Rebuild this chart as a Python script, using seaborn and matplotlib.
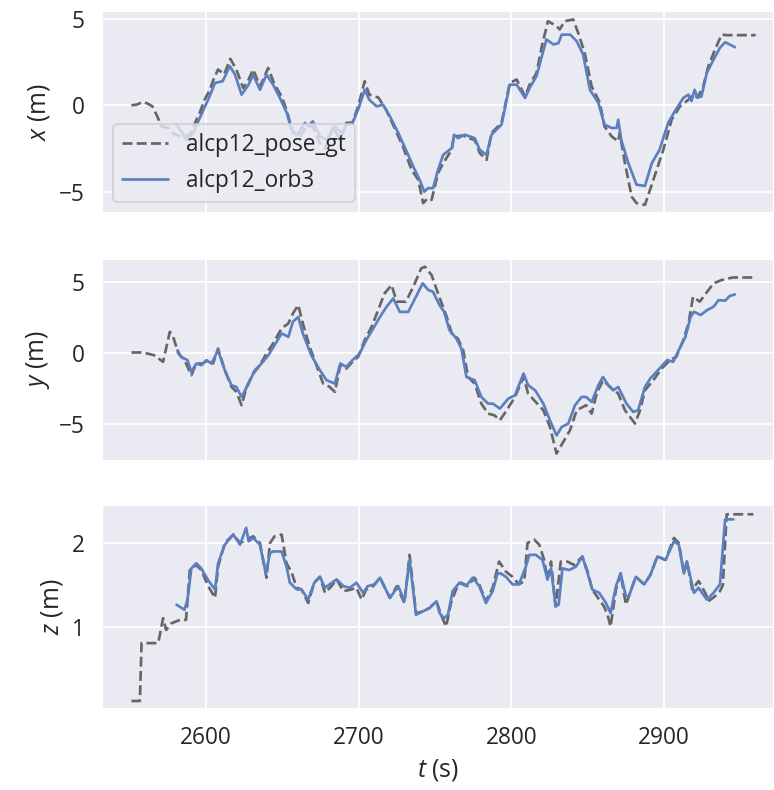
import numpy as np
import pandas as pd
import matplotlib
matplotlib.use("Agg")
import matplotlib.pyplot as plt
import seaborn as sns

# ---------------- data ----------------
x_gt_t = [2551.3, 2555, 2558.7, 2562, 2565, 2568, 2571, 2575, 2578, 2583, 2587, 2590, 2593, 2596, 2599,
          2602.6, 2605, 2608, 2612, 2616, 2620, 2624.4, 2628, 2631, 2635.4, 2638, 2640.8, 2645, 2649.6,
          2652.8, 2657, 2661.6, 2666, 2670, 2674.7, 2678, 2683.4, 2688, 2692, 2696, 2699.7, 2704, 2707,
          2713, 2718, 2724, 2729, 2734.7, 2739, 2742.3, 2745, 2747.8, 2752, 2755.4, 2761, 2762.5, 2768.5,
          2772, 2776, 2779.4, 2783.8, 2787, 2793.6, 2799, 2803.5, 2809, 2812, 2816.5, 2820, 2824, 2829.6,
          2831.7, 2835, 2840.5, 2843.8, 2848, 2852.6, 2858, 2861, 2865.7, 2870, 2871, 2874.4, 2878.8, 2882,
          2887.5, 2893, 2899.5, 2905, 2910.4, 2916, 2919, 2922, 2925.7, 2929, 2933.4, 2937.7, 2941, 2950, 2960]
x_gt_v = [0.0, 0.05, 0.2, 0.1, -0.06, -0.6, -1.22, -1.3, -1.6, -1.8, -1.85, -1.6, -1.0, -0.43, 0.3,
          0.9, 1.5, 2.08, 1.8, 2.7, 2.08, 1.0, 1.5, 2.08, 1.1, 1.6, 2.17, 1.2, 0.52,
          -0.25, -1.6, -1.8, -1.22, -1.2, -2.19, -2.5, -1.22, -2.0, -1.02, -1.0, -0.06, 1.4, 0.62,
          0.45, -0.25, -1.4, -2.38, -3.74, -4.3, -5.67, -5.4, -5.48, -3.93, -3.35, -2.58, -1.8, -1.75,
          -1.9, -2.0, -2.77, -3.16, -1.6, -1.02, 1.3, 1.5, 0.52, 1.2, 1.88, 3.43, 4.88, 4.6,
          4.4, 4.88, 4.98, 4.2, 3.05, 1.1, 0.14, -1.22, -1.8, -2.09, -1.6, -3.35, -5.29, -5.67,
          -5.77, -4.32, -2.58, -0.83, -0.06, 0.33, 0.62, 0.45, 1.1, 2.27, 3.24, 4.1, 4.07, 4.07, 4.07]

x_orb_t = [2580.8, 2584, 2587.4, 2591.7, 2596, 2601.5, 2606, 2611, 2615.7, 2619, 2623.4, 2628, 2631,
           2635.4, 2639.7, 2644, 2648.5, 2653, 2656, 2660, 2664.8, 2667, 2670, 2674.7, 2679, 2684.5,
           2689, 2692, 2696, 2699.7, 2704, 2707, 2711.8, 2716, 2720.5, 2726, 2730, 2735.8, 2740, 2743,
           2745.5, 2748.8, 2752, 2755.4, 2761, 2762.5, 2765, 2769.5, 2776, 2779.4, 2783.8, 2787, 2793.6,
           2799, 2803.5, 2809, 2812, 2816.5, 2820, 2823, 2827.6, 2830.8, 2833, 2838.6, 2842.8, 2847,
           2851.5, 2857, 2861, 2865.7, 2869, 2870, 2872, 2876.6, 2882, 2887.5, 2892, 2897, 2902.7, 2907,
           2912.6, 2916, 2918, 2920, 2922, 2924.5, 2928, 2932.4, 2936.6, 2940, 2943, 2946.4]
x_orb_v = [-1.12, -1.5, -2.0, -1.6, -0.73, 0.33, 1.3, 1.4, 2.27, 1.8, 0.62, 1.2, 1.78,
           0.9, 1.78, 1.2, 0.43, -0.44, -1.41, -1.7, -1.02, -1.2, -0.93, -1.8, -2.0, -1.22,
           -1.6, -1.12, -1.02, -0.25, 0.9, 0.33, -0.06, 0.04, -0.64, -1.6, -2.38, -3.55, -4.32, -5.0,
           -4.8, -4.8, -3.74, -2.87, -2.48, -1.7, -1.9, -1.7, -1.9, -2.58, -2.87, -1.7, -1.12,
           1.2, 1.2, 0.43, 1.0, 1.69, 2.85, 3.82, 3.53, 3.6, 4.1, 4.1, 3.72, 2.95,
           0.9, 0.14, -1.12, -1.31, -1.31, -0.83, -2.0, -3.35, -4.6, -4.67, -3.35, -2.58, -1.02, -0.35,
           0.43, 0.62, 0.25, 0.9, 0.45, 0.52, 1.88, 2.66, 3.33, 3.66, 3.53, 3.37]

y_gt_t = [2551.3, 2558.7, 2566, 2572, 2576.4, 2578.6, 2582, 2586, 2590.5, 2593.7, 2598, 2601.5, 2604.7,
          2608, 2612.4, 2616.8, 2620, 2623.4, 2626.7, 2631, 2635.4, 2639.7, 2644, 2649.6, 2654, 2657,
          2660.5, 2663.5, 2668, 2672, 2676.8, 2681, 2684.5, 2688, 2692, 2696, 2699.7, 2704, 2708.5,
          2712.8, 2717, 2721.6, 2725, 2731, 2735.8, 2741, 2743.5, 2747.8, 2752, 2757.7, 2761, 2765,
          2768.5, 2771.7, 2776, 2780.4, 2784.8, 2789, 2792.5, 2797, 2802.4, 2808, 2811, 2817, 2821,
          2825.3, 2829.6, 2834, 2838.4, 2842.8, 2849, 2852.6, 2855.9, 2860, 2864.6, 2870, 2874.4, 2881,
          2884.3, 2887.5, 2893, 2898.4, 2904, 2908, 2912.6, 2916, 2919, 2923.4, 2926.6, 2932.4, 2937.7,
          2945, 2952, 2960]
y_gt_v = [0.03, 0.03, -0.16, -0.63, 1.48, 1.13, -0.04, -0.5, -1.57, -0.75, -0.75, -0.5, -0.75,
          0.3, -1.22, -2.39, -2.74, -3.68, -2.39, -1.45, -0.87, -0.04, 0.66, 1.72, 2.07, 2.77,
          3.36, 2.07, 0.42, -0.75, -2.16, -2.39, -2.74, -0.87, -1.1, -0.63, -0.28, 0.89, 1.83,
          3.0, 4.18, 4.77, 3.6, 3.6, 4.65, 5.94, 6.06, 5.47, 4.18, 2.53, 1.37, 1.01,
          0.19, -1.69, -2.16, -3.57, -4.27, -4.39, -4.74, -4.03, -3.1, -1.69, -2.86, -3.57, -4.03,
          -5.21, -7.08, -6.26, -5.44, -4.03, -3.68, -4.27, -2.86, -1.92, -2.39, -2.86, -4.03, -4.97,
          -4.03, -2.63, -1.92, -1.1, -0.51, -0.28, 0.89, 2.07, 3.94, 3.6, 4.06, 4.89, 5.12,
          5.3, 5.3, 5.3]

y_orb_t = [2581.5, 2583.7, 2588, 2590.5, 2593.7, 2597, 2600.4, 2603.7, 2608, 2612.4, 2616.8, 2620,
           2623.4, 2628, 2632, 2635.4, 2641, 2645, 2649.6, 2654, 2657, 2660.5, 2663.5, 2669, 2674.7,
           2679, 2684.5, 2688, 2692, 2696, 2700.7, 2705, 2709.6, 2714, 2718.3, 2722.7, 2727, 2732.5,
           2737, 2742, 2745.6, 2748.7, 2753, 2756, 2759.5, 2764, 2767.3, 2770.6, 2776, 2780.4, 2784.8,
           2788, 2792.5, 2798, 2802.4, 2808, 2811, 2815.6, 2821, 2825.3, 2829.6, 2833, 2837.3, 2841.7,
           2846, 2849, 2852.6, 2857, 2860, 2863.5, 2866.7, 2870, 2875.4, 2879.8, 2883, 2887.5, 2891,
           2896, 2902, 2906, 2909.6, 2914, 2917.4, 2919.6, 2924, 2928, 2932.4, 2935.7, 2940, 2943, 2946.4]
y_orb_v = [0.19, -0.28, -0.51, -1.33, -0.75, -0.87, -0.51, -0.75, 0.19, -1.22, -2.27, -2.39,
           -3.1, -2.16, -1.22, -0.87, -0.16, 0.54, 1.37, 1.13, 2.19, 2.53, 1.37, -0.16, -1.22,
           -1.92, -2.16, -0.75, -0.98, -0.51, -0.04, 0.89, 1.72, 2.53, 3.24, 3.83, 2.88, 2.88,
           3.83, 4.89, 4.42, 4.3, 3.36, 2.89, 1.6, 1.01, 0.31, -1.69, -1.92, -3.1, -3.57,
           -3.57, -3.92, -3.22, -2.98, -1.45, -2.27, -2.63, -3.57, -4.74, -5.8, -5.21, -4.97, -3.68,
           -3.1, -3.1, -3.45, -2.27, -1.69, -2.27, -2.63, -2.39, -3.57, -4.15, -4.03, -2.39, -1.8,
           -1.22, -0.51, -0.63, 0.19, 1.13, 2.53, 2.89, 2.66, 3.0, 3.24, 3.71, 3.67, 4.0, 4.11]

z_gt_t = [2551.3, 2556.8, 2557.9, 2568.8, 2572, 2574, 2577.5, 2583, 2587, 2589.5, 2593.7, 2597, 2601.5,
          2606, 2608, 2612.4, 2618, 2622.4, 2626.7, 2631, 2635.4, 2639.7, 2642, 2645, 2649.6, 2652.8,
          2656, 2659.5, 2662.6, 2667, 2671, 2674.7, 2678, 2682.3, 2685.6, 2690, 2695.3, 2698.6, 2702,
          2705, 2709.6, 2714, 2720.5, 2725, 2730, 2733.4, 2737.6, 2742, 2746.4, 2751, 2754, 2757.3,
          2760.5, 2763.8, 2767, 2771.5, 2775.8, 2779, 2783.4, 2787.8, 2792, 2796.5, 2800.8, 2805,
          2808.5, 2810.6, 2815, 2818.3, 2821.5, 2823.7, 2826, 2829, 2832.4, 2836.8, 2841, 2846.5, 2850,
          2853, 2857.5, 2860.7, 2863, 2865, 2868.5, 2871.6, 2875, 2877, 2881.5, 2887, 2891, 2895.6,
          2901, 2906.5, 2909.7, 2913, 2915, 2918.5, 2922.6, 2927, 2929, 2933.4, 2936.6, 2938.5, 2941,
          2950, 2958.5]
z_gt_v = [0.13, 0.13, 0.815, 0.815, 1.11, 0.97, 1.05, 1.09, 1.09, 1.68, 1.74, 1.68, 1.49,
          1.35, 1.72, 2.0, 2.1, 2.0, 2.04, 2.08, 2.0, 1.59, 2.0, 2.08, 2.1, 1.76,
          1.66, 1.47, 1.45, 1.29, 1.53, 1.6, 1.41, 1.49, 1.57, 1.43, 1.45, 1.47, 1.33,
          1.45, 1.49, 1.59, 1.35, 1.49, 1.29, 1.86, 1.17, 1.19, 1.23, 1.31, 1.15, 1.01,
          1.29, 1.45, 1.53, 1.49, 1.59, 1.51, 1.31, 1.47, 1.78, 1.66, 1.6, 1.51,
          1.55, 2.0, 2.04, 1.98, 1.8, 1.57, 1.78, 1.25, 1.78, 1.78, 1.74, 1.84, 1.66,
          1.45, 1.33, 1.25, 1.15, 1.01, 1.45, 1.64, 1.27, 1.37, 1.6, 1.51, 1.62, 1.84,
          1.8, 2.06, 2.0, 1.64, 1.78, 1.45, 1.55, 1.41, 1.31, 1.37, 1.43, 1.5, 2.34,
          2.34, 2.34]

z_orb_t = [2580.8, 2586, 2588, 2590.5, 2593.7, 2597, 2601.5, 2606, 2608, 2612.4, 2618, 2622.4, 2626.4,
           2628, 2631, 2635.4, 2639.3, 2642, 2644, 2649.6, 2652.8, 2655, 2659.5, 2662.6, 2667, 2671,
           2674.7, 2678, 2681, 2685.6, 2690, 2694.2, 2698.6, 2703, 2706, 2710.6, 2714, 2720.5, 2726,
           2730, 2733.4, 2737.6, 2742, 2746.4, 2751, 2753, 2756, 2758.5, 2761.6, 2766, 2770.4, 2774.7,
           2779, 2783.4, 2787.8, 2791, 2793, 2796.5, 2800.8, 2805, 2809.5, 2811.8, 2816, 2820.4, 2823.7,
           2826, 2829, 2831, 2833.5, 2838, 2842.3, 2846.5, 2850, 2853, 2857.5, 2862, 2865, 2868.5,
           2871.6, 2875, 2877, 2881.5, 2887, 2891, 2895.6, 2901, 2906.5, 2909.7, 2913, 2915, 2919.6,
           2922.6, 2928, 2932.4, 2936.6, 2940, 2945.4]
z_orb_v = [1.27, 1.21, 1.33, 1.7, 1.76, 1.7, 1.56, 1.45, 1.76, 1.98, 2.1, 1.98, 2.18,
           2.02, 2.06, 1.98, 1.64, 1.88, 1.9, 1.9, 1.72, 1.53, 1.45, 1.45, 1.33, 1.53,
           1.6, 1.47, 1.51, 1.57, 1.49, 1.47, 1.53, 1.41, 1.49, 1.51, 1.59, 1.35, 1.49,
           1.31, 1.8, 1.15, 1.19, 1.23, 1.31, 1.17, 1.11, 1.15, 1.43, 1.53, 1.49, 1.59,
           1.49, 1.29, 1.43, 1.64, 1.64, 1.6, 1.51, 1.51, 1.72, 1.86, 1.86, 1.8, 1.57,
           1.7, 1.25, 1.27, 1.7, 1.68, 1.72, 1.84, 1.64, 1.45, 1.41, 1.29, 1.17, 1.49,
           1.64, 1.37, 1.37, 1.6, 1.51, 1.62, 1.84, 1.8, 2.02, 1.98, 1.64, 1.78, 1.41,
           1.47, 1.33, 1.41, 1.51, 2.28, 2.28]

series_names = ["alcp12_pose_gt", "alcp12_orb3"]
axis_labels = ["$x$ (m)", "$y$ (m)", "$z$ (m)"]
xlabel = "$t$ (s)"

# ---------------- style ----------------
sns.set_theme(style="darkgrid", font_scale=1.15)
plt.rcParams["font.family"] = ["Open Sans", "DejaVu Sans"]
plt.rcParams["mathtext.fontset"] = "custom"
plt.rcParams["mathtext.rm"] = "Open Sans"
plt.rcParams["mathtext.it"] = "Open Sans:italic"

DPI = 129
fig = plt.figure(figsize=(774 / DPI, 790 / DPI), dpi=DPI)
W, H = 774.0, 790.0
left = 102 / W
rows = [(11, 213), (259, 461), (505, 709)]
axes = []
for i, (top, bot) in enumerate(rows):
    ax = fig.add_axes([left, 1 - bot / H, 1.0 - left, (bot - top) / H],
                      sharex=axes[0] if axes else None)
    axes.append(ax)

gt_color = "#666666"
orb_color = "#5b7fbf"

panels = [
    (x_gt_t, x_gt_v, x_orb_t, x_orb_v),
    (y_gt_t, y_gt_v, y_orb_t, y_orb_v),
    (z_gt_t, z_gt_v, z_orb_t, z_orb_v),
]
ylims = [(-6.24, 5.47), (-7.6, 6.6), (0.035, 2.45)]
yticks = [[-5, 0, 5], [-5, 0, 5], [1, 2]]

for i, (ax, (gt_t, gt_v, ob_t, ob_v)) in enumerate(zip(axes, panels)):
    gt_df = pd.DataFrame({"t": gt_t, "v": gt_v})
    ob_df = pd.DataFrame({"t": ob_t, "v": ob_v})
    sns.lineplot(data=gt_df, x="t", y="v", ax=ax, color=gt_color, linestyle="--",
                 linewidth=1.5, estimator=None, sort=False,
                 label=series_names[0] if i == 0 else None, legend=(i == 0))
    sns.lineplot(data=ob_df, x="t", y="v", ax=ax, color=orb_color,
                 linewidth=1.5, estimator=None, sort=False,
                 label=series_names[1] if i == 0 else None, legend=(i == 0))
    ax.set_ylim(*ylims[i])
    ax.set_yticks(yticks[i])
    ax.set_ylabel(axis_labels[i])
    ax.set_xlabel("")
    ax.set_xlim(2532, 2972)
    ax.set_xticks([2600, 2700, 2800, 2900])
    if i < 2:
        ax.tick_params(labelbottom=False)

axes[2].set_xlabel(xlabel)
axes[0].legend(loc="lower left")

fig.savefig("out.png", dpi=DPI)
